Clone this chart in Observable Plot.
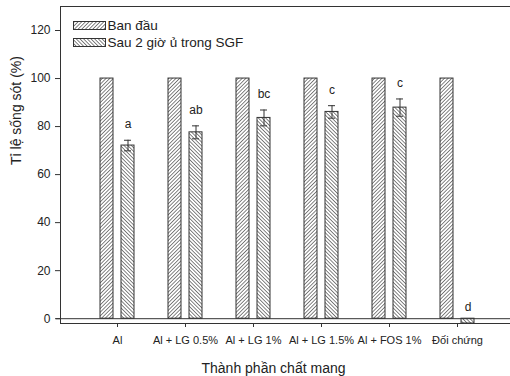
<!DOCTYPE html>
<html>
<head>
<meta charset="utf-8">
<script src="https://cdn.jsdelivr.net/npm/d3@7"></script>
<script src="https://cdn.jsdelivr.net/npm/@observablehq/plot@0.6"></script>
<style>
  html, body { margin: 0; padding: 0; background: #fff; overflow: hidden; }
  #chart svg { display: block; overflow: hidden; }
</style>
</head>
<body>
<div id="chart"></div>
<script>
const categories = ["Al", "Al + LG 0.5%", "Al + LG 1%", "Al + LG 1.5%", "Al + FOS 1%", "Đối chứng"];
const seriesNames = ["Ban đầu", "Sau 2 giờ ủ trong SGF"];
const initialValues = [100, 100, 100, 100, 100, 100];
const sgfValues = [72.1, 77.6, 83.6, 86.1, 87.9, -2];
const sgfErrors = [2.2, 2.7, 3.3, 2.6, 3.6, 0];
const letters = ["a", "ab", "bc", "c", "c", "d"];
const yTicks = [0, 20, 40, 60, 80, 100, 120];
const yTitle = "Tỉ lệ sống sót (%)";
const xTitle = "Thành phần chất mang";

const data = categories.map((c, i) => ({
  cat: c, initial: initialValues[i], sgf: sgfValues[i], err: sgfErrors[i], letter: letters[i]
}));
const withErr = data.filter(d => d.err > 0);

const ink = "#333";
const textColor = "#222";

const plot = Plot.plot({
  width: 510,
  height: 376,
  marginLeft: 60,
  marginRight: 0,
  marginTop: 6,
  marginBottom: 53,
  style: { fontFamily: "'Liberation Sans', Arial, sans-serif", color: textColor, background: "#fff" },
  x: { domain: categories, paddingInner: 0.504, paddingOuter: 0.532, align: 0.52 },
  y: { domain: [-2, 130] },
  marks: [
    Plot.barY(data, { x: "cat", y: "initial", fill: "url(#hatchA)", stroke: ink, strokeWidth: 1, insetRight: 21 }),
    Plot.barY(data, { x: "cat", y: "sgf", fill: "url(#hatchB)", stroke: ink, strokeWidth: 1, insetLeft: 21 }),
    Plot.ruleX(withErr, { x: "cat", y1: d => d.sgf - d.err, y2: d => d.sgf + d.err, dx: 10.5, stroke: ink, strokeWidth: 1 }),
    Plot.tickY(withErr, { x: "cat", y: d => d.sgf + d.err, insetLeft: 24, insetRight: 3, stroke: ink, strokeWidth: 1 }),
    Plot.tickY(withErr, { x: "cat", y: d => d.sgf - d.err, insetLeft: 24, insetRight: 3, stroke: ink, strokeWidth: 1 }),
    Plot.text(data, { x: "cat", y: d => d.sgf + d.err, text: "letter", dx: 10.5, dy: -16, fontSize: 12, fill: textColor, lineAnchor: "middle" }),
    Plot.ruleY([0], { stroke: ink, strokeWidth: 1, insetLeft: -4 }),
    Plot.frame({ stroke: ink, strokeWidth: 1, insetRight: -3 }),
    Plot.axisY({ ticks: yTicks, tickSize: 5, tickPadding: 5, fontSize: 12, label: null, stroke: ink, fill: textColor }),
    Plot.axisX({ tickSize: 4, tickPadding: 9, fontSize: 11, label: null, stroke: ink, fill: textColor }),
    Plot.text([yTitle], { frameAnchor: "left", dx: -44, rotate: -90, fontSize: 14, fill: textColor }),
    Plot.text([xTitle], { frameAnchor: "bottom", dx: -12, dy: 45, fontSize: 14, fill: textColor, lineAnchor: "middle" })
  ]
});

const svg = d3.select(plot);
const defs = svg.insert("defs", ":first-child");
function hatch(id, angle, spacing) {
  const p = defs.append("pattern")
    .attr("id", id)
    .attr("patternUnits", "userSpaceOnUse")
    .attr("width", spacing).attr("height", spacing)
    .attr("patternTransform", `rotate(${angle})`);
  p.append("rect").attr("width", spacing).attr("height", spacing).attr("fill", "#fff");
  p.append("line").attr("x1", 0).attr("y1", 0).attr("x2", 0).attr("y2", spacing)
    .attr("stroke", "#333").attr("stroke-width", 1.2);
}
hatch("hatchA", 45, 2.6);
hatch("hatchB", -45, 2.6);

// legend inside the plot area
const legendFills = ["url(#hatchA)", "url(#hatchB)"];
const lg = svg.append("g")
  .attr("font-family", "'Liberation Sans', Arial, sans-serif")
  .attr("text-anchor", "start");
seriesNames.forEach((name, i) => {
  const y0 = 21 + i * 17;
  lg.append("rect").attr("x", 73.5).attr("y", y0 + 0.5).attr("width", 32).attr("height", 8)
    .attr("fill", legendFills[i]).attr("stroke", ink).attr("stroke-width", 1);
  lg.append("text").attr("x", 107.5).attr("y", y0 + 4.5).attr("dy", "0.35em")
    .attr("text-anchor", "start")
    .attr("font-size", 13.5).attr("fill", textColor).text(name);
});

document.getElementById("chart").appendChild(plot);
</script>
</body>
</html>
